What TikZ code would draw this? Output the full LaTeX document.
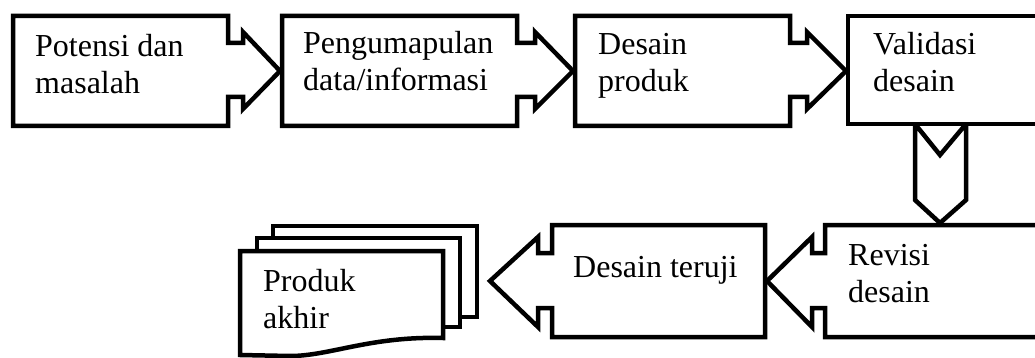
\documentclass[tikz,border=0pt]{standalone}
\usepackage{fontspec}
\setmainfont{Liberation Serif}
\begin{document}
\begin{tikzpicture}[x=1pt,y=-1pt,
  shape line/.style={draw=black,line width=4.5pt,line join=miter,fill=white},
  label text/.style={anchor=base west,inner sep=0pt,align=left,
    font=\fontsize{32}{37}\selectfont}]
\useasboundingbox (0,0) rectangle (1035,358);
\clip (0,0) rectangle (1035,358);

% downward chevron (drawn first so the box edges stay on top)
\draw[shape line] (915,124) -- (940,155) -- (966,124) -- (966,200) -- (940,223)
  -- (915,200) -- cycle;

% top row: boxes with right-pointing callout arrows
\draw[shape line] (13,16) -- (228,16) -- (228,43) -- (243,43) -- (243,32) -- (280,71)
  -- (243,109) -- (243,97) -- (228,97) -- (228,126) -- (13,126) -- cycle;
\draw[shape line] (282,16) -- (517,16) -- (517,43) -- (535,43) -- (535,32) -- (573,71)
  -- (535,109) -- (535,97) -- (517,97) -- (517,126) -- (282,126) -- cycle;
\draw[shape line] (575,16) -- (790,16) -- (790,43) -- (807,43) -- (807,32) -- (846,71)
  -- (807,109) -- (807,97) -- (790,97) -- (790,126) -- (575,126) -- cycle;
\draw[shape line] (848,16) -- (1045,16) -- (1045,124) -- (848,124) -- cycle;

% bottom row: boxes with left-pointing callout arrows
\draw[shape line] (1045,225) -- (825,225) -- (825,253) -- (812,253) -- (812,237) -- (767,281)
  -- (812,327) -- (812,308) -- (825,308) -- (825,337) -- (1045,337) -- cycle;
\draw[shape line] (765,225) -- (552,225) -- (552,253) -- (538,253) -- (538,237) -- (490,281)
  -- (538,327) -- (538,308) -- (552,308) -- (552,337) -- (765,337) -- cycle;

% stacked documents
\draw[shape line] (273,226) rectangle (477,317);
\draw[shape line] (257,238) rectangle (460,327);
\draw[shape line] (240,251) -- (443,251) -- (443,338)
  .. controls (370,336) and (330,356) .. (290,356) -- (240,355) -- cycle;

% labels (base anchor sits on the last line)
\node[label text] (t1) at (35,94) {Potensi dan\\masalah};
\node[label text] (t2) at (303,91) {Pengumapulan\\data/informasi};
\node[label text] (t3) at (598,92) {Desain\\produk};
\node[label text] (t4) at (873,92) {Validasi\\desain};
\node[label text] (t5) at (848,302) {Revisi\\desain};
\node[label text] (t6) at (573,277) {Desain teruji};
\node[label text] (t7) at (263,328) {Produk\\akhir};
\end{tikzpicture}
\end{document}
